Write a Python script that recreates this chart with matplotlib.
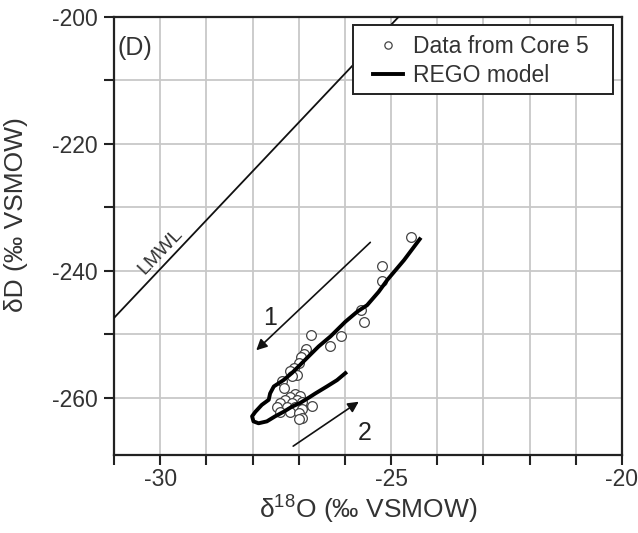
import matplotlib
matplotlib.use("Agg")
import matplotlib.pyplot as plt
from matplotlib.patches import Rectangle
from matplotlib.ticker import MultipleLocator, FuncFormatter

plt.rcParams["font.family"] = ["Liberation Sans", "DejaVu Sans"]
plt.rcParams["mathtext.default"] = "regular"

# --- data ---
core5_d18o = [-24.56, -25.19, -25.19, -25.66, -25.58, -26.73, -26.08, -26.32,
              -26.84, -26.89, -26.94, -27.00, -27.11, -27.18, -27.04, -27.15,
              -27.36, -27.31, -27.07, -26.97, -27.18, -27.29, -27.04, -26.93,
              -27.40, -27.15, -26.71, -27.47, -27.25, -27.07, -26.93, -27.40,
              -27.18, -27.00, -26.93, -27.00]
core5_dD = [-234.7, -239.3, -241.6, -246.1, -248.0, -250.1, -250.2, -251.8,
            -252.3, -253.1, -253.6, -254.5, -255.3, -255.7, -256.4, -256.5,
            -257.4, -258.4, -259.4, -259.7, -259.9, -260.3, -260.3, -260.6,
            -260.8, -260.8, -261.3, -261.5, -261.5, -261.5, -261.8, -262.2,
            -262.2, -262.4, -263.2, -263.4]

rego_d18o = [-24.38, -24.72, -25.08, -25.27, -25.52, -25.73, -25.99, -26.31,
             -26.57, -26.75, -26.97, -27.15, -27.33, -27.54, -27.62, -27.65,
             -27.80, -27.94, -28.01, -27.98, -27.87, -27.69, -27.51, -27.33,
             -27.15, -26.97, -26.79, -26.64, -26.39, -26.17, -25.99]
rego_dD = [-235.0, -238.3, -241.4, -243.3, -245.4, -246.4, -248.0, -250.3,
           -251.9, -253.2, -254.8, -256.1, -257.2, -258.2, -259.3, -260.3,
           -261.1, -262.2, -262.9, -263.7, -264.0, -263.7, -262.9, -262.2,
           -261.4, -260.8, -260.0, -259.3, -258.2, -257.2, -256.1]

lmwl_d18o = [-31.0, -24.84]
lmwl_dD = [-247.4, -200.0]

# arrows: (start, end) in data units
arrow1 = ((-25.45, -235.5), (-27.92, -252.5))
arrow2 = ((-27.12, -267.6), (-25.70, -260.6))

fig = plt.figure(figsize=(6.38, 5.33), dpi=100)
ax = fig.add_axes([0.1787, 0.1463, 0.7962, 0.8218])

ax.set_xlim(-31, -20)
ax.set_ylim(-269, -200)
ax.xaxis.set_major_locator(MultipleLocator(5))
ax.xaxis.set_minor_locator(MultipleLocator(1))
ax.yaxis.set_major_locator(MultipleLocator(20))
ax.yaxis.set_minor_locator(MultipleLocator(10))
ax.yaxis.set_major_formatter(FuncFormatter(lambda v, p: f"{v:.0f}"))
ax.xaxis.set_major_formatter(FuncFormatter(lambda v, p: f"{v:.0f}"))
ax.grid(True, which="both", color="#c8c8c8", linewidth=1.3, zorder=0)
ax.set_axisbelow(True)
ax.tick_params(which="both", direction="out", length=7.5, width=1.5,
               labelsize=16.5, color="#222222", labelcolor="#333333")
ax.tick_params(axis="x", pad=2)
ax.tick_params(axis="y", pad=4)
for s in ax.spines.values():
    s.set_linewidth(1.6)
    s.set_color("#222222")

# LMWL
ax.plot(lmwl_d18o, lmwl_dD, color="#111111", linewidth=1.3, zorder=3)
ax.text(-30.0, -236.9, "LMWL", rotation=46.5, ha="center", va="center",
        fontsize=14, color="#333333", rotation_mode="anchor")

# data and model
ax.plot(core5_d18o, core5_dD, "o", markersize=7, markerfacecolor="white",
        markeredgecolor="#444444", markeredgewidth=0.9, linestyle="none",
        label="Data from Core 5", zorder=4)
ax.plot(rego_d18o, rego_dD, color="black", linewidth=2.8,
        solid_joinstyle="round", label="REGO model", zorder=5)

# arrows
for (x0, y0), (x1, y1) in (arrow1, arrow2):
    ax.annotate("", xy=(x1, y1), xytext=(x0, y0),
                arrowprops=dict(arrowstyle="-|>", color="#111111", lw=1.2,
                                mutation_scale=16, shrinkA=0, shrinkB=0))
ax.text(-27.63, -247.4, "1", fontsize=18, ha="center", va="center", color="#222222")
ax.text(-25.58, -265.5, "2", fontsize=18, ha="center", va="center", color="#222222")

ax.text(-30.93, -204.9, "(D)", fontsize=18, ha="left", va="center", color="#333333")

# legend: separate frame box, entries placed inside it
ax.add_patch(Rectangle((0.4705, 0.824), 0.5115, 0.158, transform=ax.transAxes,
                       facecolor="white", edgecolor="#222222", linewidth=1.4,
                       zorder=6))
leg = ax.legend(loc="upper left", bbox_to_anchor=(0.51, 0.959), frameon=False,
                fontsize=16.5, borderpad=0, borderaxespad=0, handlelength=1.3,
                handletextpad=0.45, labelspacing=0.25, markerscale=0.75)
leg.set_zorder(7)
for t in leg.get_texts():
    t.set_color("#333333")

ax.set_xlabel(r"δ$^{18}$O (‰ VSMOW)", fontsize=19, labelpad=2, color="#333333")
ax.set_ylabel("δD (‰ VSMOW)", fontsize=19, color="#333333")
ax.yaxis.set_label_coords(-0.169, 0.548)

fig.savefig("out.png", dpi=100)
